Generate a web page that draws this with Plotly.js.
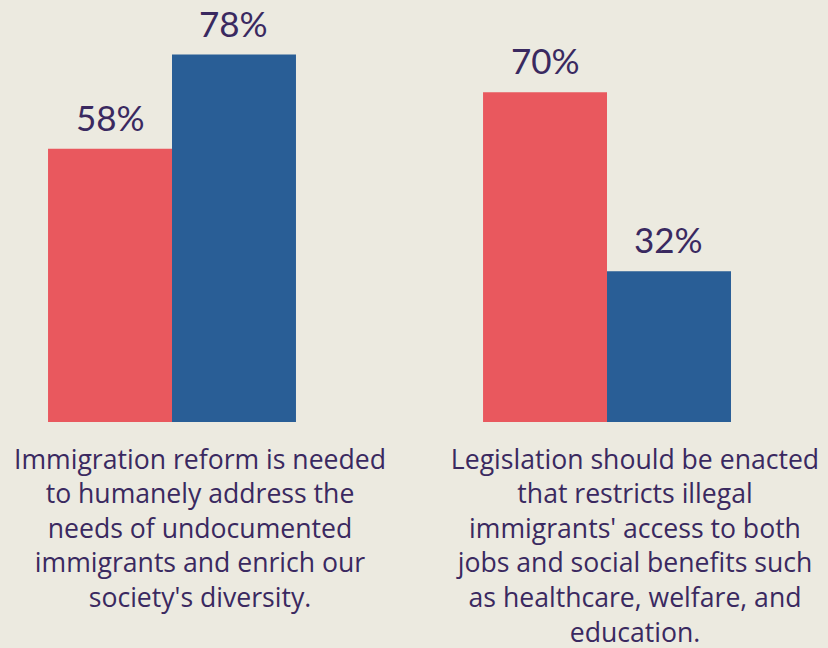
<!DOCTYPE html>
<html>
<head>
<meta charset="utf-8">
<script src="https://cdn.plot.ly/plotly-3.0.1.min.js"></script>
<style>
html,body{margin:0;padding:0;background:#ECEAE0;}
#chart{width:828px;height:648px;}
</style>
</head>
<body>
<div id="chart"></div>
<script>
// ---- data ----
const categories = [
  "Immigration reform is needed<br>to humanely address the<br>needs of undocumented<br>immigrants and enrich our<br>society's diversity.",
  "Legislation should be enacted<br>that restricts illegal<br>immigrants' access to both<br>jobs and social benefits such<br>as healthcare, welfare, and<br>education."
];
const seriesNames = ["Republicans", "Democrats"];
const redValues = [58, 70];
const blueValues = [78, 32];

// ---- styles ----
const RED = "#E9585E";
const BLUE = "#295E96";
const INK = "#3A2960";
const BG = "#ECEAE0";
const W = 828, H = 648;
const mL = 0, mR = 0, mT = 20, mB = 226;
const xRange = [-0.3954, 1.508];
const pxPerPct = 4.71;
const bargap = 0.43;

const plotW = W - mL - mR;
const unitPx = plotW / (xRange[1] - xRange[0]);
const barPx = unitPx * (1 - bargap) / 2;

const traces = [
  {type: "bar", name: seriesNames[0], x: categories, y: redValues,
   marker: {color: RED}, hoverinfo: "none"},
  {type: "bar", name: seriesNames[1], x: categories, y: blueValues,
   marker: {color: BLUE}, hoverinfo: "none"}
];

const annotations = [];
[redValues, blueValues].forEach((vals, s) => {
  vals.forEach((v, i) => {
    annotations.push({
      x: categories[i], y: v, xref: "x", yref: "y",
      text: v + "%", showarrow: false,
      xshift: (s === 0 ? -1 : 1) * barPx / 2,
      yanchor: "bottom", yshift: 9,
      font: {family: "Lato, 'Open Sans', sans-serif", size: 35, color: INK}
    });
  });
});

const layout = {
  width: W, height: H,
  paper_bgcolor: BG, plot_bgcolor: BG,
  margin: {l: mL, r: mR, t: mT, b: mB, pad: 0},
  showlegend: false,
  barmode: "group",
  bargap: bargap, bargroupgap: 0,
  xaxis: {
    type: "category", range: xRange, showgrid: false, zeroline: false,
    showline: false, ticks: "", automargin: false,
    ticklabelshift: 28, ticklabelstandoff: 19,
    tickfont: {family: "'Open Sans', Lato, sans-serif", size: 26.6, color: INK}
  },
  yaxis: {
    range: [0, (H - mT - mB) / pxPerPct], showgrid: false, zeroline: false,
    showticklabels: false, showline: false, ticks: "", fixedrange: true
  },
  annotations: annotations
};

Plotly.newPlot("chart", traces, layout, {displayModeBar: false, staticPlot: true});
</script>
</body>
</html>
